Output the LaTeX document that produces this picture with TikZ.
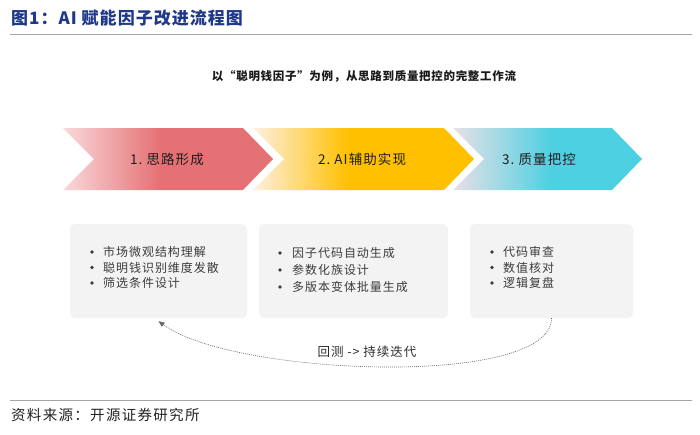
\documentclass[tikz,border=0pt]{standalone}
\usepackage{fontspec}
\setmainfont{Noto Sans CJK SC}
\usetikzlibrary{arrows.meta}
\definecolor{titleblue}{RGB}{31,56,136}
\definecolor{rulegray}{RGB}{165,165,165}
\definecolor{cA}{RGB}{228,113,116}
\definecolor{cAl}{RGB}{250,218,221}
\definecolor{cB}{RGB}{255,192,0}
\definecolor{cBl}{RGB}{254,240,228}
\definecolor{cC}{RGB}{77,208,225}
\definecolor{cCl}{RGB}{234,224,230}
\definecolor{boxgray}{RGB}{243,243,243}
\definecolor{txtgray}{RGB}{60,60,60}
\definecolor{loopgray}{RGB}{105,105,105}
\newcommand{\mychev}[5]{% left, tip, gradend, light, main
  \begin{scope}
    \clip (#1,128) -- (#2-30,128) -- (#2,159) -- (#2-30,190) -- (#1,190) -- (#1+31,159) -- cycle;
    \shade[left color=#4, right color=#5] (#1-1,127) rectangle (#3,191);
    \fill[#5] (#3-0.5,127) rectangle (#2+1,191);
  \end{scope}
}
\begin{document}
\begin{tikzpicture}[x=1pt,y=-1pt,
  chevlabel/.style={font={\fontsize{13.5}{15}\selectfont\addfontfeature{LetterSpace=8}}, text={rgb,255:red,30;green,30;blue,30}, inner sep=0pt},
  infobox/.style={fill=boxgray, rounded corners=5pt, inner sep=0pt},
  itemtext/.style={font={\fontsize{12}{14}\selectfont\addfontfeature{LetterSpace=8}}, text=txtgray, anchor=west, inner sep=0pt},
  bulletmark/.style={circle, fill=txtgray, inner sep=0pt, minimum size=3.6pt},
  loopline/.style={draw=loopgray, line width=0.6pt, dash pattern=on 1pt off 1pt, -{Triangle[length=6pt,width=5pt]}}
]
\useasboundingbox[fill=white] (0,0) rectangle (700,434);

% title and rule
\node[anchor=west, inner sep=0pt, font={\fontsize{17}{19}\selectfont\bfseries\addfontfeature{LetterSpace=6}}, text=titleblue] (title) at (11,18) {图1：AI 赋能因子改进流程图};
\coordinate (r1a) at (10,34);
\coordinate (r1b) at (692,34);
\draw[rulegray, line width=0.9pt] (r1a) -- (r1b);

% subtitle
\node[inner sep=0pt, font={\fontsize{11.5}{13}\selectfont\bfseries\addfontfeature{LetterSpace=6}}, text={rgb,255:red,25;green,25;blue,25}] (sub) at (364,76) {以“聪明钱因子”为例，从思路到质量把控的完整工作流};

% chevrons
\mychev{63}{273}{160}{cAl}{cA}
\mychev{253}{474}{348}{cBl}{cB}
\mychev{453}{642}{552}{cCl}{cC}
\node[chevlabel] (lab1) at (167,159) {1.\ 思路形成};
\node[chevlabel] (lab2) at (362,159) {2.\ AI辅助实现};
\node[chevlabel] (lab3) at (539,159) {3.\ 质量把控};

% boxes
\node[infobox, minimum width=177pt, minimum height=94pt] (box1) at (158.5,271) {};
\node[infobox, minimum width=189pt, minimum height=94pt] (box2) at (353.5,271) {};
\node[infobox, minimum width=163pt, minimum height=94pt] (box3) at (551.5,271) {};

% box 1 items
\node[bulletmark] (d11) at (92,252) {};
\node[bulletmark] (d12) at (92,267.5) {};
\node[bulletmark] (d13) at (92,283) {};
\node[itemtext] (t11) at (103,252) {市场微观结构理解};
\node[itemtext] (t12) at (103,267.5) {聪明钱识别维度发散};
\node[itemtext] (t13) at (103,283) {筛选条件设计};

% box 2 items
\node[bulletmark] (d21) at (280,253) {};
\node[bulletmark] (d22) at (280,270) {};
\node[bulletmark] (d23) at (280,287) {};
\node[itemtext] (t21) at (292,253) {因子代码自动生成};
\node[itemtext] (t22) at (292,270) {参数化族设计};
\node[itemtext] (t23) at (292,287) {多版本变体批量生成};

% box 3 items
\node[bulletmark] (d31) at (492,252) {};
\node[bulletmark] (d32) at (492,267.5) {};
\node[bulletmark] (d33) at (492,283) {};
\node[itemtext] (t31) at (503,252) {代码审查};
\node[itemtext] (t32) at (503,267.5) {数值核对};
\node[itemtext] (t33) at (503,283) {逻辑复盘};

% feedback loop
\draw[loopline] (box3.south) .. controls +(0,70) and +(75,55) .. ([yshift=-3pt]box1.south);
\node[inner sep=0pt, font={\fontsize{12.5}{14}\selectfont\addfontfeature{LetterSpace=8}}, text={rgb,255:red,45;green,45;blue,45}] (looplbl) at (367,352) {回测 -> 持续迭代};

% footer
\coordinate (r2a) at (10,400);
\coordinate (r2b) at (692,400);
\draw[rulegray, line width=0.9pt] (r2a) -- (r2b);
\node[anchor=west, inner sep=0pt, font={\fontsize{14.5}{16}\selectfont\addfontfeature{LetterSpace=9}}, text={rgb,255:red,35;green,35;blue,35}] (src) at (11,415) {资料来源：开源证券研究所};
\end{tikzpicture}
\end{document}
